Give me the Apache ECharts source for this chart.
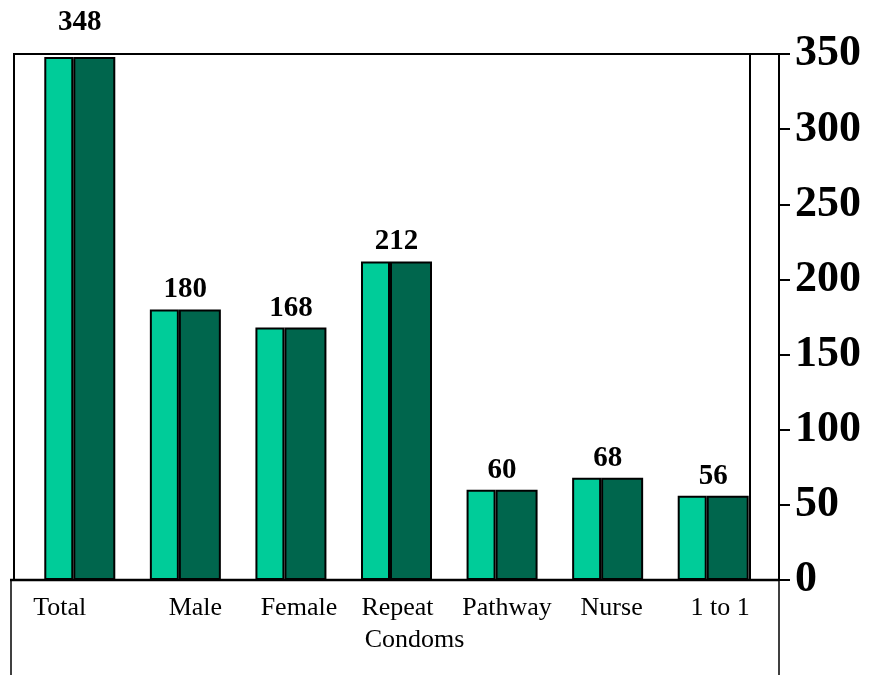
<!DOCTYPE html>
<html>
<head>
<meta charset="utf-8">
<script src="https://cdn.jsdelivr.net/npm/echarts@6/dist/echarts.min.js"></script>
<style>
  html, body { margin: 0; padding: 0; background: #fff; }
  #main { width: 870px; height: 675px; }
</style>
</head>
<body>
<div id="main"></div>
<script>
// categories and values
var categories = ['Total', 'Male', 'Female', 'Repeat\nCondoms', 'Pathway', 'Nurse', '1 to 1'];
var values = [348, 180, 168, 212, 60, 68, 56];
var yTicks = [0, 50, 100, 150, 200, 250, 300, 350];

// small sideways nudges of the category labels (px), one per line of text
var labelNudge = [[-20], [10], [8], [1, 18], [5], [4], [7]];

var serif = 'Liberation Serif';

// rich styles for the nudged labels
var rich = {};
labelNudge.forEach(function (lines, i) {
    lines.forEach(function (d, j) {
        rich['c' + i + '_' + j] = {
            fontFamily: serif,
            fontSize: 26,
            color: '#000',
            lineHeight: 32,
            padding: d >= 0 ? [0, 0, 0, 2 * d] : [0, -2 * d, 0, 0]
        };
    });
});

var myChart = echarts.init(document.getElementById('main'), null, { renderer: 'canvas' });

var option = {
    animation: false,
    backgroundColor: '#fff',
    grid: { left: 27, right: 104, top: 54, bottom: 95 },
    xAxis: {
        type: 'category',
        data: categories,
        axisLine: { show: false },
        axisTick: { show: false },
        axisLabel: {
            margin: 12,
            interval: 0,
            fontFamily: serif,
            fontSize: 26,
            color: '#000',
            lineHeight: 32,
            formatter: function (v, i) {
                return v.split('\n').map(function (t, j) {
                    return '{c' + i + '_' + j + '|' + t + '}';
                }).join('\n');
            },
            rich: rich
        }
    },
    yAxis: {
        type: 'value',
        position: 'right',
        offset: 13,
        min: yTicks[0],
        max: yTicks[yTicks.length - 1],
        interval: 50,
        splitLine: { show: false },
        axisLine: { show: true, lineStyle: { color: '#000', width: 2 } },
        axisTick: { show: true, length: 11, lineStyle: { color: '#000', width: 2 } },
        axisLabel: {
            margin: 16,
            fontFamily: serif,
            fontSize: 44,
            fontWeight: 'bold',
            color: '#000'
        }
    },
    series: [
        {
            name: 'side',
            type: 'bar',
            barWidth: 29,
            barGap: '0%',
            data: values.map(function (v, i) {
                // the top bar's label sits higher in the original
                return i === 0 ? { value: v, label: { distance: 20 } } : v;
            }),
            itemStyle: { color: '#00CC99', borderColor: '#000', borderWidth: 2 },
            label: {
                show: true,
                position: 'top',
                distance: 5,
                offset: [21, 0],
                fontFamily: serif,
                fontSize: 29,
                fontWeight: 'bold',
                color: '#000'
            }
        },
        {
            name: 'front',
            type: 'bar',
            barWidth: 42,
            barGap: '0%',
            data: values,
            itemStyle: { color: '#00664D', borderColor: '#000', borderWidth: 2 }
        }
    ],
    graphic: [
        // plot frame
        { type: 'rect', shape: { x: 14, y: 54, width: 736, height: 526 }, style: { fill: 'none', stroke: '#000', lineWidth: 2 }, z: 10 },
        // top line running out to the axis
        { type: 'line', shape: { x1: 750, y1: 54, x2: 779, y2: 54 }, style: { stroke: '#000', lineWidth: 2 }, z: 10 },
        // baseline of the label box
        { type: 'line', shape: { x1: 10, y1: 580, x2: 779, y2: 580 }, style: { stroke: '#000', lineWidth: 2.5 }, z: 10 },
        // label box sides
        { type: 'line', shape: { x1: 11, y1: 580, x2: 11, y2: 675 }, style: { stroke: '#000', lineWidth: 1.5 }, z: 10 },
        { type: 'line', shape: { x1: 779, y1: 580, x2: 779, y2: 675 }, style: { stroke: '#000', lineWidth: 1.5 }, z: 10 }
    ]
};

myChart.setOption(option);
</script>
</body>
</html>
